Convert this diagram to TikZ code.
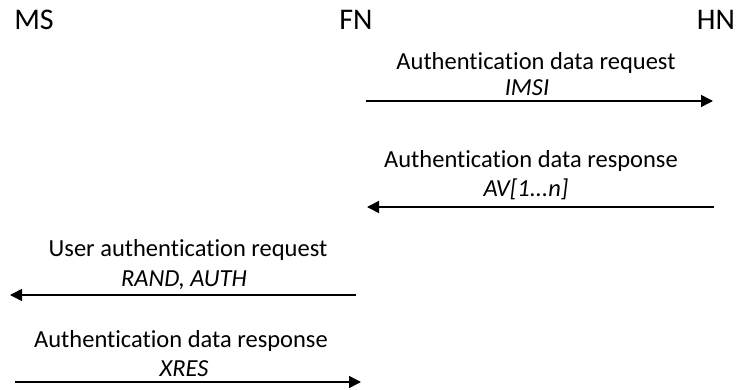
\documentclass[tikz,border=0pt]{standalone}
\usepackage{fontspec}
\setmainfont{Carlito}[Ligatures={NoCommon}]
\usetikzlibrary{arrows.meta}
\begin{document}
\begin{tikzpicture}[x=1pt,y=-1pt,
  entity/.style={inner sep=0pt,anchor=center,font=\fontsize{30}{34}\selectfont},
  msg/.style={inner sep=0pt,anchor=base,font=\fontsize{24.5}{28}\selectfont},
  param/.style={inner sep=0pt,anchor=base,font=\fontsize{24.5}{28}\selectfont\itshape},
  flow/.style={line width=1.5pt,-{Triangle[length=12pt,width=12pt]}}]
\useasboundingbox (0,0) rectangle (737,390);
% network entities
\node[entity] (ms) at (34,20) {MS};
\node[entity] (fn) at (356,20) {FN};
\node[entity] (hn) at (716,20) {HN};
% arrow endpoints
\coordinate (fn1) at (366,101);
\coordinate (hn1) at (713,101);
\coordinate (hn2) at (714,207);
\coordinate (fn2) at (367,207);
\coordinate (fn3) at (356,295);
\coordinate (ms3) at (10,295);
\coordinate (ms4) at (15,382);
\coordinate (fn4) at (361,382);
% FN -> HN
\draw[flow] (fn1) -- (hn1);
\node[msg] (l1) at (536,70) {Authentication data request};
\node[param] (p1) at (527,96) {IMSI};
% HN -> FN
\draw[flow] (hn2) -- (fn2);
\node[msg] (l2) at (531,168) {Authentication data response};
\node[param] (p2) at (526,197) {AV[1...n]};
% FN -> MS
\draw[flow] (fn3) -- (ms3);
\node[msg] (l3) at (188,257) {User authentication request};
\node[param] (p3) at (184,287) {RAND, AUTH};
% MS -> FN
\draw[flow] (ms4) -- (fn4);
\node[msg] (l4) at (181,348) {Authentication data response};
\node[param] (p4) at (184,377) {XRES};
\end{tikzpicture}
\end{document}
